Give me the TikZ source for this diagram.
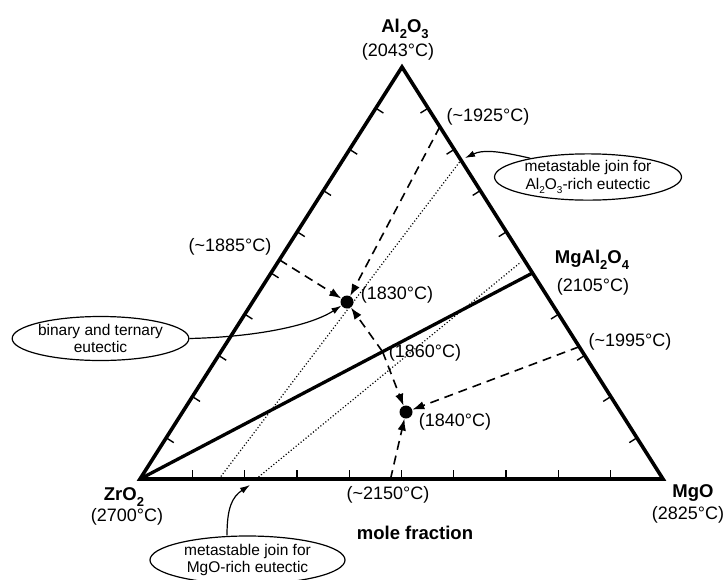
\documentclass[tikz,border=0pt]{standalone}
\usepackage{fontspec}
\setmainfont{Liberation Sans}
\usetikzlibrary{arrows.meta,calc,shapes.geometric}
\newcommand{\lblfont}{\fontsize{18}{20}\selectfont}
\newcommand{\blblfont}{\fontsize{18.5}{20}\selectfont\bfseries}
\newcommand{\elblfont}{\fontsize{15.5}{17.5}\selectfont}
\newcommand{\sbs}[1]{\raisebox{-0.3em}{\fontsize{13}{13}\selectfont #1}}
\newcommand{\ssbs}[1]{\raisebox{-0.25em}{\fontsize{10}{10}\selectfont #1}}
\newcommand{\tl}{\textasciitilde}
\begin{document}
\begin{tikzpicture}[x=1pt,y=-1pt,
  side/.style={line width=3.6pt,line join=miter},
  joinline/.style={line width=3.3pt},
  tickmark/.style={line width=1.4pt},
  dashln/.style={line width=1.6pt,dash pattern=on 9pt off 6pt},
  dotln/.style={line width=1.2pt,dash pattern=on 1.1pt off 2.1pt},
  tipend/.style={-{Latex[length=12pt,width=8.5pt]}},
  eut/.style={circle,fill=black,inner sep=0pt,minimum size=13pt},
  bub/.style={ellipse,draw,line width=1.2pt,inner sep=0pt,align=center,font=\elblfont},
  lab/.style={inner sep=0pt,font=\lblfont},
  blab/.style={inner sep=0pt,font=\blblfont},
  callout/.style={line width=1.2pt,-{Latex[length=10pt,width=6.5pt]}}
]
\useasboundingbox (0,0) rectangle (726,579);
% corners
\coordinate (A) at (402,67);
\coordinate (Z) at (140,479);
\coordinate (M) at (663,479);
\coordinate (MA) at ($(A)!0.5!(M)$);
% ticks
\foreach \k in {1,...,9} {
  \draw[tickmark] ($(Z)!\k/10!(M)$) -- ($($(Z)!\k/10!(M)$)!9pt!90:(M)$);
  \draw[tickmark] ($(A)!\k/10!(Z)$) -- ($($(A)!\k/10!(Z)$)!9pt!90:(Z)$);
}
\foreach \k in {1,2,3,4,6,7,8,9} {
  \draw[tickmark] ($(M)!\k/10!(A)$) -- ($($(M)!\k/10!(A)$)!9pt!90:(A)$);
}
% dotted metastable joins
\coordinate (d1a) at ($(Z)!0.151!(M)$);
\coordinate (d1b) at ($(A)!0.226!(M)$);
\coordinate (d2a) at ($(Z)!0.222!(M)$);
\coordinate (d2b) at (521,262);
\draw[dotln] (d1a) -- (d1b);
\draw[dotln] (d2a) -- (d2b);
% triangle and join
\draw[side] (A) -- (Z) -- (M) -- cycle;
\draw[joinline] (Z) -- (MA);
% eutectic points
\node[eut] (E1) at (347,302) {};
\node[eut] (E2) at (406,412) {};
\coordinate (S) at ($(Z)!0.618!(MA)$);
\coordinate (L1885) at ($(A)!0.468!(Z)$);
\coordinate (R1925) at ($(A)!0.145!(M)$);
\coordinate (R1995) at ($(A)!0.679!(M)$);
\coordinate (B2150) at ($(Z)!0.479!(M)$);
% dashed valleys
\draw[dashln,tipend] (L1885) -- (E1);
\draw[dashln,tipend] (R1925) -- (E1);
\draw[dashln,tipend] (S) -- (E1);
\draw[dashln,tipend] (S) -- (E2);
\draw[dashln,tipend] (R1995) -- (E2);
\draw[dashln,tipend] (B2150) -- (E2);
% labels
\node[blab] (lA) at (405,29) {Al\sbs{2}O\sbs{3}};
\node[lab] (tA) at (398,52) {(2043°C)};
\node[blab] (lZ) at (124,497) {ZrO\sbs{2}};
\node[lab] (tZ) at (127,517) {(2700°C)};
\node[blab] (lM) at (693,493) {MgO};
\node[lab] (tM) at (688,515) {(2825°C)};
\node[blab] (lMA) at (592,260) {MgAl\sbs{2}O\sbs{4}};
\node[lab] (tMA) at (593,287) {(2105°C)};
\node[lab] (t1925) at (488,117) {(\tl1925°C)};
\node[lab] (t1885) at (230,247) {(\tl1885°C)};
\node[lab] (t1995) at (630,342) {(\tl1995°C)};
\node[lab] (t2150) at (388,495) {(\tl2150°C)};
\node[lab] (t1830) at (397,295) {(1830°C)};
\node[lab] (t1860) at (425,353) {(1860°C)};
\node[lab] (t1840) at (455,422) {(1840°C)};
\node[blab] (mf) at (415,533) {mole fraction};
% callouts
\node[bub,minimum width=187pt,minimum height=45pt] (b1) at (588,177) {metastable join for\\Al\ssbs{2}O\ssbs{3}-rich eutectic};
\node[bub,minimum width=176pt,minimum height=44pt] (b2) at (100.5,338.5) {binary and ternary\\eutectic};
\node[bub,minimum width=195pt,minimum height=48pt] (b3) at (247.5,560) {metastable join for\\MgO-rich eutectic};
\coordinate (c1) at (465,158);
\coordinate (c3) at (250,485);
\coordinate (b3s) at ($(b3.north)+(-20.5,0)$);
\draw[callout] (b1.162) .. controls (495,150) and (482,150) .. (c1);
\draw[callout] (b2.east) .. controls (255,337) and (310,326) .. (E1);
\draw[callout] (b3s) .. controls (227,508) and (232,497) .. (c3);
\end{tikzpicture}
\end{document}
